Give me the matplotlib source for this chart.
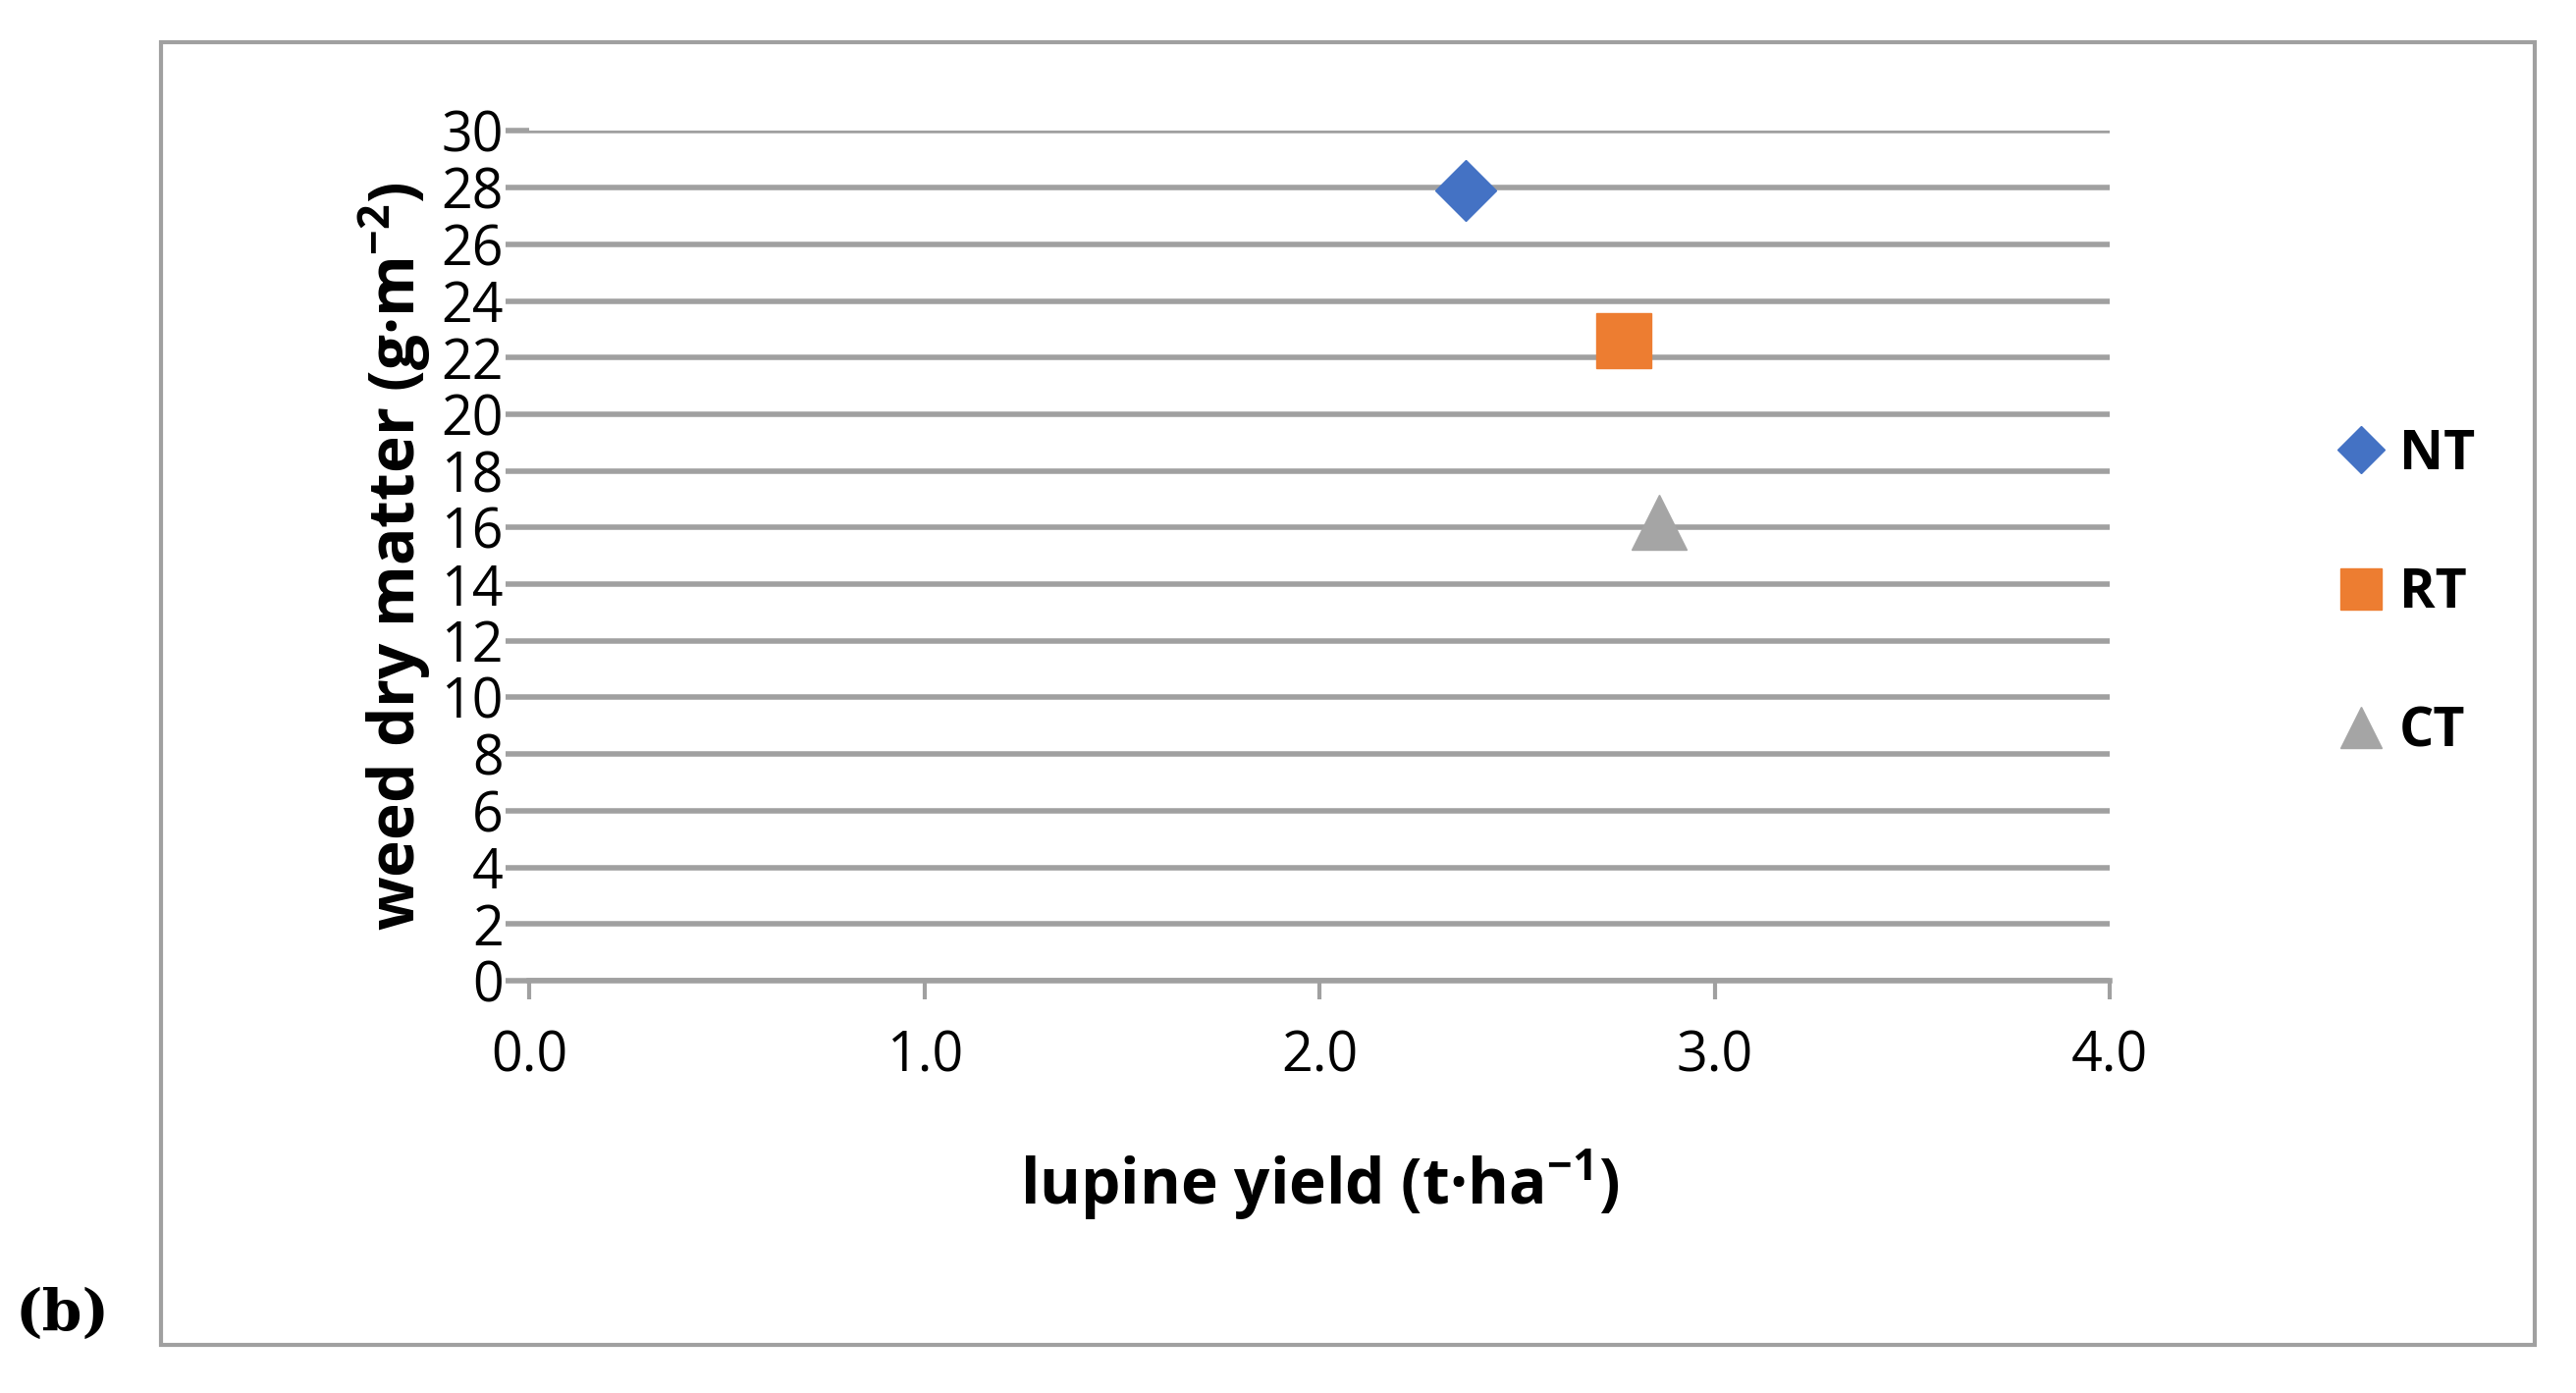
import matplotlib
matplotlib.use("Agg")
import matplotlib.pyplot as plt
from matplotlib.patches import Rectangle
from matplotlib.lines import Line2D

series = ["NT", "RT", "CT"]
yield_x = [2.37, 2.77, 2.86]
weed_y = [27.9, 22.6, 16.2]
colors = ["#4472C4", "#ED7D31", "#A5A5A5"]
markers = ["D", "s", "^"]
msizes = [32, 40, 40]
xticks = [0, 1, 2, 3, 4]
yticks = list(range(0, 31, 2))

plt.rcParams['font.family'] = ['Open Sans', 'DejaVu Sans']
plt.rcParams['mathtext.default'] = 'regular'
fig = plt.figure(figsize=(26.24, 14.19), dpi=100)
ax = fig.add_axes([0.2055, 0.296, 0.6135, 0.610])

for x, y, c, m, s, lab in zip(yield_x, weed_y, colors, markers, msizes, series):
    ax.plot([x], [y], linestyle='none', marker=m, color=c, markersize=s, label=lab, zorder=3)

ax.set_xlim(0, 4)
ax.set_ylim(0, 30)
ax.set_xticks(xticks)
ax.set_xticklabels([f"{v:.1f}" for v in xticks])
ax.set_yticks(yticks)
ax.grid(axis='y', color='#A0A0A0', linewidth=4, zorder=0)
for s in ['top', 'right', 'left']:
    ax.spines[s].set_visible(False)
ax.spines['bottom'].set_color('#A0A0A0')
ax.spines['bottom'].set_linewidth(4)
ax.tick_params(axis='y', length=17, width=4, color='#A0A0A0', labelsize=40, pad=2)
ax.tick_params(axis='x', length=14, width=3, color='#A0A0A0', labelsize=40, pad=22)
ax.set_xlabel("lupine yield (t·ha$^{-1}$)", fontsize=46, fontweight='bold', labelpad=45)
ax.set_ylabel("weed dry matter (g·m$^{-2}$)", fontsize=46, fontweight='bold', labelpad=6)

handles = [Line2D([], [], linestyle='none', marker=m, color=c, markersize=s * 0.75)
           for m, c, s in zip(markers, colors, msizes)]
leg = fig.legend(handles, series, loc='center left', bbox_to_anchor=(0.887, 0.574),
                 frameon=False, prop={'size': 40, 'weight': 'bold'},
                 labelspacing=1.55, handletextpad=0.2, handlelength=1.0)

fig.patches.append(Rectangle((0.0625, 0.0346), 0.9215, 0.935, transform=fig.transFigure,
                             fill=False, edgecolor='#A0A0A0', linewidth=3))
fig.text(0.006, 0.045, "(b)", fontsize=42, fontweight='bold', family='DejaVu Serif')

fig.savefig("out.png", dpi=100)
